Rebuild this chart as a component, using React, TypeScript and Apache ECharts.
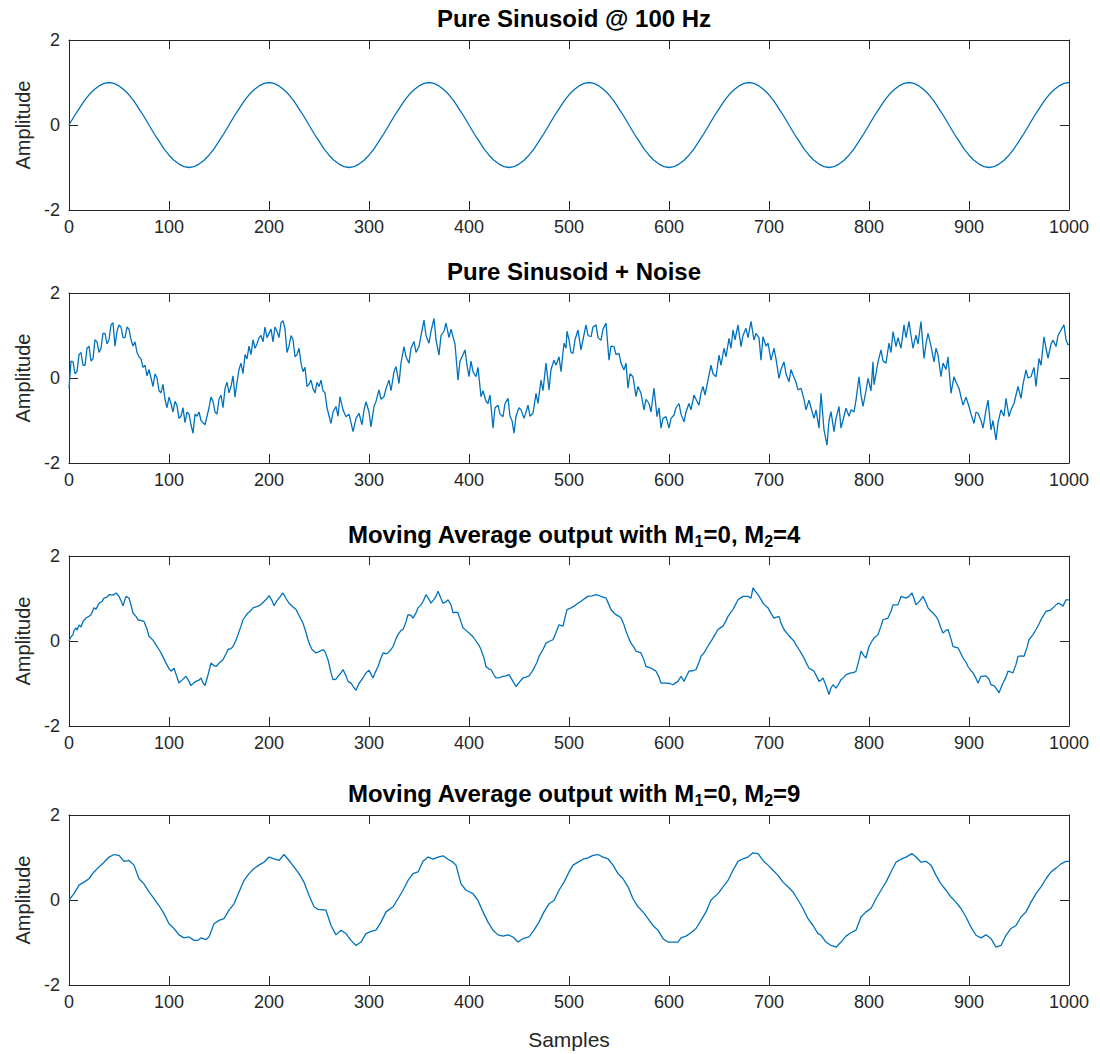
import React, { useEffect, useRef } from "react";
import * as echarts from "echarts";

// Sample step used for the pure sinusoid readings
const sineStep = 5;
const pureSine = [
  0, 0.2, 0.38, 0.56, 0.71, 0.83, 0.92, 0.98, 1, 0.98, 0.92, 0.83, 0.71, 0.56, 0.38, 0.2,
  0, -0.2, -0.38, -0.56, -0.71, -0.83, -0.92, -0.98, -1, -0.98, -0.92, -0.83, -0.71, -0.56, -0.38, -0.2,
  0, 0.2, 0.38, 0.56, 0.71, 0.83, 0.92, 0.98, 1, 0.98, 0.92, 0.83, 0.71, 0.56, 0.38, 0.2,
  0, -0.2, -0.38, -0.56, -0.71, -0.83, -0.92, -0.98, -1, -0.98, -0.92, -0.83, -0.71, -0.56, -0.38, -0.2,
  0, 0.2, 0.38, 0.56, 0.71, 0.83, 0.92, 0.98, 1, 0.98, 0.92, 0.83, 0.71, 0.56, 0.38, 0.2,
  0, -0.2, -0.38, -0.56, -0.71, -0.83, -0.92, -0.98, -1, -0.98, -0.92, -0.83, -0.71, -0.56, -0.38, -0.2,
  0, 0.2, 0.38, 0.56, 0.71, 0.83, 0.92, 0.98, 1, 0.98, 0.92, 0.83, 0.71, 0.56, 0.38, 0.2,
  0, -0.2, -0.38, -0.56, -0.71, -0.83, -0.92, -0.98, -1, -0.98, -0.92, -0.83, -0.71, -0.56, -0.38, -0.2,
  0, 0.2, 0.38, 0.56, 0.71, 0.83, 0.92, 0.98, 1, 0.98, 0.92, 0.83, 0.71, 0.56, 0.38, 0.2,
  0, -0.2, -0.38, -0.56, -0.71, -0.83, -0.92, -0.98, -1, -0.98, -0.92, -0.83, -0.71, -0.56, -0.38, -0.2,
  0, 0.2, 0.38, 0.56, 0.71, 0.83, 0.92, 0.98, 1, 0.98, 0.92, 0.83, 0.71, 0.56, 0.38, 0.2,
  0, -0.2, -0.38, -0.56, -0.71, -0.83, -0.92, -0.98, -1, -0.98, -0.92, -0.83, -0.71, -0.56, -0.38, -0.2,
  0, 0.2, 0.38, 0.56, 0.71, 0.83, 0.92, 0.98, 1,
];

// [sample, amplitude] readings: sinusoid + noise
const noisy: [number, number][] = [
  [0, -0.25], [2, 0.4], [4, 0.38], [6, 0.1], [8, 0.15], [10, 0.55], [12, 0.6], [14, 0.3], [16, 0.3], [18, 0.7],
  [20, 0.75], [22, 0.4], [24, 0.45], [26, 0.9], [28, 0.85], [30, 0.6], [32, 0.7], [34, 1.05], [36, 1.05], [38, 0.8],
  [40, 0.9], [42, 1.25], [44, 1.3], [46, 0.75], [48, 1.1], [50, 1.25], [52, 1.2], [54, 0.95], [56, 0.95], [58, 1.2],
  [60, 1.15], [62, 0.9], [64, 0.75], [66, 0.85], [68, 0.6], [70, 0.5], [72, 0.45], [74, 0.25], [76, 0.3], [78, 0.05],
  [80, 0.2], [82, 0.0], [84, -0.2], [86, 0.1], [88, 0.0], [90, -0.3], [92, -0.35], [94, -0.15], [96, -0.5], [98, -0.7],
  [100, -0.45], [102, -0.6], [104, -0.8], [106, -0.55], [108, -0.65], [110, -0.95], [112, -0.9], [114, -0.7], [116, -1.05], [118, -0.8],
  [120, -0.85], [122, -1.1], [124, -1.3], [126, -0.85], [128, -0.9], [130, -0.8], [132, -1.0], [134, -1.05], [136, -1.1], [138, -0.9],
  [140, -0.7], [142, -0.45], [144, -0.55], [146, -0.8], [148, -0.85], [150, -0.5], [152, -0.4], [154, -0.7], [156, -0.25], [158, -0.1],
  [160, -0.35], [162, -0.2], [164, 0.05], [166, -0.45], [168, -0.1], [170, 0.2], [172, 0.35], [174, 0.1], [176, 0.55], [178, 0.45],
  [180, 0.75], [182, 0.55], [184, 0.9], [186, 0.7], [188, 0.8], [190, 0.95], [192, 1.0], [194, 0.85], [196, 1.2], [198, 0.95],
  [200, 1.05], [202, 1.15], [204, 0.85], [206, 1.2], [208, 1.1], [210, 0.95], [212, 1.3], [214, 1.35], [216, 1.15], [218, 0.6],
  [220, 0.75], [222, 1.0], [224, 0.9], [226, 0.5], [228, 0.55], [230, 0.7], [232, 0.35], [234, 0.15], [236, 0.25], [238, -0.2],
  [240, -0.15], [242, -0.05], [244, -0.25], [246, -0.35], [248, -0.1], [250, -0.2], [252, -0.05], [254, -0.3], [256, -0.35], [258, -0.7],
  [262, -1.07], [264, -0.8], [267, -0.67], [269, -0.9], [271, -0.44], [274, -0.75], [277, -0.91], [280, -0.85], [282, -1.05], [284, -1.26],
  [287, -0.95], [290, -0.83], [293, -1.1], [295, -0.75], [297, -0.56], [300, -0.8], [302, -1.15], [305, -0.67], [307, -0.55], [310, -0.28],
  [312, -0.5], [315, -0.44], [317, -0.25], [320, -0.05], [322, -0.3], [325, 0.15], [327, 0.27], [330, -0.13], [332, 0.35], [335, 0.74],
  [337, 0.5], [340, 0.35], [342, 0.7], [345, 0.86], [347, 0.6], [350, 0.74], [352, 1.0], [355, 1.36], [357, 1.0], [360, 0.82],
  [362, 1.1], [365, 1.4], [367, 0.9], [370, 0.54], [372, 1.0], [375, 1.1], [377, 1.29], [380, 0.95], [382, 1.15], [384, 0.97],
  [386, 0.8], [389, -0.05], [391, 0.4], [394, 0.55], [396, 0.66], [398, 0.3], [400, 0.03], [402, 0.4], [404, 0.15], [407, 0.03],
  [409, 0.25], [412, -0.44], [414, -0.3], [417, -0.55], [419, -0.6], [421, -0.4], [424, -1.18], [426, -0.7], [429, -0.64], [431, -0.85],
  [434, -0.91], [436, -0.6], [439, -0.48], [441, -0.9], [443, -1.0], [445, -1.3], [447, -0.9], [450, -0.7], [452, -0.75], [455, -0.95],
  [457, -0.8], [459, -0.64], [461, -0.9], [464, -0.83], [467, -0.36], [469, -0.6], [472, -0.05], [474, -0.3], [477, 0.35], [480, -0.28],
  [482, 0.2], [485, 0.42], [487, 0.3], [490, 0.5], [492, 0.15], [495, 0.82], [497, 0.7], [498, 1.1], [500, 0.9], [502, 0.6],
  [504, 0.58], [506, 0.9], [509, 1.13], [512, 0.66], [514, 0.9], [517, 1.25], [519, 1.0], [522, 0.97], [524, 1.2], [527, 1.25],
  [529, 0.95], [532, 0.89], [534, 1.15], [537, 1.29], [540, 0.42], [542, 0.75], [545, 0.74], [547, 0.55], [550, 0.58], [552, 0.35],
  [555, 0.19], [557, 0.35], [559, -0.24], [561, 0.1], [564, 0.03], [567, -0.44], [569, -0.2], [572, -0.36], [575, -0.75], [577, -0.5],
  [580, -0.6], [582, -0.8], [585, -0.24], [588, -0.91], [590, -0.7], [592, -1.18], [594, -0.95], [597, -0.91], [600, -1.18], [602, -0.95],
  [605, -0.87], [607, -0.7], [610, -0.6], [612, -0.85], [615, -1.03], [617, -0.8], [620, -0.6], [622, -0.75], [625, -0.4], [627, -0.5],
  [630, -0.64], [632, -0.35], [634, -0.2], [636, -0.4], [639, -0.05], [642, 0.3], [644, 0.1], [647, 0.03], [650, 0.54], [652, 0.3],
  [655, 0.7], [657, 0.5], [660, 0.93], [662, 0.7], [664, 1.13], [666, 0.9], [669, 1.25], [672, 0.74], [674, 1.0], [677, 1.17],
  [679, 0.95], [682, 1.33], [685, 0.89], [687, 1.05], [690, 0.95], [692, 0.42], [694, 0.97], [697, 0.75], [699, 0.82], [702, 0.42],
  [705, 0.7], [707, 0.45], [710, -0.01], [712, 0.2], [715, 0.38], [717, 0.1], [720, -0.09], [722, 0.2], [724, 0.07], [727, -0.1],
  [729, -0.28], [732, -0.24], [735, -0.5], [737, -0.75], [740, -0.52], [742, -0.7], [745, -0.95], [747, -0.75], [750, -1.18], [752, -0.36],
  [755, -1.22], [758, -1.58], [760, -1.0], [762, -0.79], [765, -1.26], [767, -0.95], [770, -0.67], [772, -1.18], [775, -0.9], [777, -0.71],
  [780, -0.9], [782, -0.75], [785, -0.8], [787, -0.52], [790, 0.03], [792, -0.4], [794, -0.67], [797, -0.3], [799, -0.01], [802, -0.3],
  [804, 0.38], [805, -0.16], [807, 0.1], [809, 0.38], [812, 0.66], [814, 0.4], [817, 0.35], [820, 0.82], [822, 0.6], [824, 1.09],
  [827, 0.74], [829, 0.95], [832, 0.7], [835, 1.25], [837, 0.95], [840, 1.33], [842, 1.0], [844, 0.7], [847, 1.01], [849, 0.8],
  [852, 1.33], [855, 0.46], [857, 0.8], [859, 1.05], [862, 0.75], [865, 0.38], [867, 0.7], [869, 0.54], [872, 0.03], [874, 0.35],
  [877, 0.2], [879, 0.5], [882, -0.36], [885, 0.03], [887, -0.1], [890, -0.24], [892, -0.45], [894, -0.64], [897, -0.45], [900, -0.67],
  [902, -0.85], [905, -1.07], [907, -0.8], [909, -0.83], [912, -1.0], [914, -1.18], [917, -0.75], [919, -0.52], [922, -1.22], [924, -1.0],
  [927, -1.46], [929, -1.05], [932, -0.75], [935, -0.9], [937, -0.48], [940, -0.91], [942, -0.75], [945, -0.6], [947, -0.4], [949, -0.2],
  [952, -0.48], [954, -0.15], [957, 0.19], [959, 0.0], [962, 0.03], [965, 0.25], [967, -0.2], [970, 0.46], [972, 0.3], [975, 0.97],
  [977, 0.7], [979, 0.46], [982, 0.8], [984, 0.89], [987, 0.74], [989, 1.0], [992, 1.13], [995, 1.25], [997, 0.9], [999, 0.78],
  [1000, 0.8],
];

// [sample, amplitude] readings: moving average, M1=0, M2=4
const ma4: [number, number][] = [
  [0, 0], [2, 0.1], [4, 0.15], [5, 0.25], [7, 0.31], [8, 0.25], [10, 0.38], [12, 0.33], [14, 0.46], [17, 0.54],
  [20, 0.58], [22, 0.62], [25, 0.78], [27, 0.75], [30, 0.89], [33, 0.93], [35, 1.01], [38, 1.03], [40, 1.09], [44, 1.08],
  [47, 1.13], [50, 1.05], [52, 0.95], [54, 0.83], [57, 1.05], [60, 1.01], [62, 0.85], [64, 0.66], [67, 0.58], [69, 0.5],
  [72, 0.48], [75, 0.46], [78, 0.28], [80, 0.11], [84, 0.02], [87, -0.09], [90, -0.2], [92, -0.28], [95, -0.42], [97, -0.52],
  [100, -0.65], [102, -0.71], [105, -0.64], [108, -0.85], [110, -0.99], [113, -0.92], [117, -0.83], [120, -0.95], [122, -1.05], [125, -0.98],
  [127, -0.95], [130, -0.92], [132, -0.87], [134, -0.98], [136, -1.05], [139, -0.8], [142, -0.52], [145, -0.58], [147, -0.6], [151, -0.5],
  [154, -0.44], [157, -0.3], [159, -0.2], [162, -0.18], [164, -0.13], [167, 0.02], [169, 0.15], [172, 0.35], [174, 0.5], [177, 0.6],
  [179, 0.66], [182, 0.72], [184, 0.78], [189, 0.82], [192, 0.86], [195, 0.93], [198, 1.0], [200, 1.07], [203, 0.95], [205, 0.83],
  [208, 0.95], [210, 1.01], [214, 1.13], [217, 1.0], [220, 0.89], [224, 0.8], [227, 0.74], [230, 0.6], [234, 0.42], [237, 0.2],
  [239, 0.03], [241, -0.1], [243, -0.2], [247, -0.28], [250, -0.25], [254, -0.2], [256, -0.25], [259, -0.44], [262, -0.75], [264, -0.91],
  [267, -0.9], [269, -0.83], [272, -0.75], [274, -0.67], [277, -0.82], [279, -0.95], [282, -0.99], [285, -1.1], [287, -1.16], [290, -1.0],
  [294, -0.87], [297, -0.75], [300, -0.69], [302, -0.78], [304, -0.87], [306, -0.75], [309, -0.6], [312, -0.4], [314, -0.28], [317, -0.3],
  [319, -0.28], [322, -0.2], [324, -0.13], [327, 0.05], [329, 0.15], [332, 0.25], [334, 0.27], [337, 0.45], [339, 0.62], [342, 0.6],
  [344, 0.54], [347, 0.66], [349, 0.78], [352, 0.85], [354, 0.93], [357, 1.09], [360, 0.98], [362, 0.89], [365, 0.98], [367, 1.05],
  [369, 1.17], [372, 1.0], [374, 0.89], [377, 0.92], [379, 0.97], [382, 0.85], [384, 0.66], [387, 0.68], [389, 0.66], [392, 0.45],
  [394, 0.31], [397, 0.25], [400, 0.19], [404, 0.1], [407, 0.0], [410, -0.1], [412, -0.2], [415, -0.4], [417, -0.6], [420, -0.66],
  [422, -0.67], [425, -0.8], [427, -0.87], [431, -0.86], [434, -0.83], [437, -0.82], [440, -0.79], [444, -0.95], [447, -1.07], [451, -0.95],
  [454, -0.87], [457, -0.85], [460, -0.82], [463, -0.72], [465, -0.64], [468, -0.5], [470, -0.36], [474, -0.2], [477, -0.05], [481, 0.0],
  [484, 0.03], [487, 0.2], [490, 0.38], [494, 0.35], [496, 0.55], [498, 0.74], [502, 0.78], [505, 0.82], [509, 0.89], [512, 0.93],
  [514, 0.97], [517, 1.02], [519, 1.05], [523, 1.06], [527, 1.09], [530, 1.07], [532, 1.05], [537, 1.01], [540, 0.85], [542, 0.74],
  [545, 0.66], [547, 0.62], [550, 0.58], [552, 0.54], [555, 0.38], [557, 0.23], [560, 0.05], [562, -0.05], [565, -0.15], [567, -0.24],
  [572, -0.28], [575, -0.45], [577, -0.6], [580, -0.62], [582, -0.64], [585, -0.68], [587, -0.71], [590, -0.85], [592, -0.99], [597, -0.99],
  [601, -1.0], [604, -1.03], [607, -0.98], [609, -0.95], [612, -0.83], [615, -0.95], [618, -0.8], [620, -0.71], [624, -0.7], [627, -0.67],
  [630, -0.5], [632, -0.36], [635, -0.28], [637, -0.2], [640, -0.08], [642, -0.01], [646, 0.15], [649, 0.27], [652, 0.32], [654, 0.35],
  [657, 0.48], [659, 0.58], [662, 0.68], [664, 0.74], [667, 0.88], [669, 0.97], [672, 1.02], [674, 1.05], [679, 1.05], [682, 1.01],
  [684, 1.25], [687, 1.15], [689, 1.09], [692, 0.98], [694, 0.89], [697, 0.82], [699, 0.78], [702, 0.65], [705, 0.54], [710, 0.58],
  [712, 0.42], [715, 0.27], [719, 0.15], [722, 0.07], [725, 0.0], [727, -0.09], [730, -0.2], [732, -0.28], [735, -0.4], [738, -0.55],
  [740, -0.64], [743, -0.68], [745, -0.71], [748, -0.85], [750, -0.95], [752, -0.92], [754, -0.87], [757, -1.05], [760, -1.26], [762, -1.1],
  [764, -1.03], [767, -1.11], [770, -1.0], [772, -0.91], [775, -0.85], [777, -0.79], [782, -0.75], [785, -0.74], [787, -0.71], [790, -0.45],
  [792, -0.24], [795, -0.35], [797, -0.4], [800, -0.13], [803, 0.0], [805, 0.07], [809, 0.15], [812, 0.35], [814, 0.5], [819, 0.54],
  [822, 0.7], [824, 0.85], [829, 0.85], [832, 1.05], [837, 1.01], [840, 1.05], [843, 1.13], [845, 1.0], [847, 0.85], [851, 0.95],
  [854, 1.05], [857, 0.9], [859, 0.78], [862, 0.7], [864, 0.66], [867, 0.58], [869, 0.5], [872, 0.3], [874, 0.19], [877, 0.25],
  [879, 0.27], [882, 0.05], [884, -0.13], [889, -0.16], [892, -0.3], [894, -0.4], [897, -0.5], [899, -0.6], [902, -0.7], [904, -0.75],
  [907, -0.88], [909, -0.99], [912, -0.83], [917, -0.82], [920, -0.9], [922, -1.03], [925, -1.05], [927, -1.11], [930, -1.22], [932, -1.1],
  [934, -0.99], [937, -0.85], [939, -0.71], [942, -0.73], [944, -0.75], [947, -0.55], [949, -0.36], [952, -0.35], [955, -0.36], [958, -0.15],
  [960, 0.03], [964, 0.15], [967, 0.27], [970, 0.4], [972, 0.5], [975, 0.62], [977, 0.7], [981, 0.72], [984, 0.78], [987, 0.85],
  [989, 0.89], [992, 0.86], [994, 0.82], [997, 0.97], [1000, 0.97],
];

// [sample, amplitude] readings: moving average, M1=0, M2=9
const ma9: [number, number][] = [
  [0, 0], [5, 0.15], [10, 0.35], [15, 0.42], [20, 0.5], [25, 0.66], [30, 0.78], [35, 0.89], [40, 1.01], [45, 1.07],
  [50, 1.05], [55, 0.91], [60, 0.93], [65, 0.82], [70, 0.5], [75, 0.38], [80, 0.19], [85, 0.03], [90, -0.13], [95, -0.32],
  [100, -0.56], [105, -0.67], [110, -0.82], [115, -0.89], [120, -0.87], [125, -0.95], [129, -0.95], [132, -0.89], [137, -0.93], [140, -0.87],
  [145, -0.56], [150, -0.48], [155, -0.44], [160, -0.24], [165, -0.09], [170, 0.19], [175, 0.46], [180, 0.62], [185, 0.74], [190, 0.82],
  [195, 0.89], [200, 1.01], [205, 0.97], [210, 0.93], [215, 1.07], [220, 0.93], [225, 0.78], [230, 0.62], [235, 0.42], [240, 0.11],
  [245, -0.16], [249, -0.22], [253, -0.23], [257, -0.24], [262, -0.6], [267, -0.82], [272, -0.71], [277, -0.79], [282, -0.95], [287, -1.07],
  [292, -0.99], [297, -0.79], [302, -0.74], [307, -0.71], [312, -0.52], [317, -0.28], [324, -0.16], [329, 0.03], [334, 0.23], [339, 0.46],
  [344, 0.62], [349, 0.66], [354, 0.91], [359, 1.01], [364, 0.96], [369, 1.01], [374, 1.04], [379, 0.96], [384, 0.89], [387, 0.82],
  [392, 0.38], [397, 0.23], [404, 0.15], [409, -0.01], [414, -0.28], [419, -0.52], [424, -0.71], [429, -0.82], [434, -0.85], [439, -0.82],
  [444, -0.87], [449, -0.99], [454, -0.91], [460, -0.87], [465, -0.71], [470, -0.52], [475, -0.28], [480, -0.09], [485, -0.01], [490, 0.23],
  [495, 0.42], [500, 0.66], [504, 0.82], [509, 0.89], [514, 0.96], [519, 0.99], [524, 1.05], [529, 1.07], [534, 1.01], [539, 0.97],
  [544, 0.82], [549, 0.62], [554, 0.5], [559, 0.31], [564, 0.03], [569, -0.16], [574, -0.28], [579, -0.44], [584, -0.6], [589, -0.71],
  [594, -0.91], [599, -0.99], [604, -0.99], [609, -0.99], [612, -0.89], [617, -0.85], [622, -0.77], [627, -0.67], [632, -0.48], [637, -0.28],
  [642, 0], [649, 0.15], [654, 0.31], [659, 0.46], [664, 0.7], [669, 0.91], [674, 0.97], [679, 1.01], [684, 1.11], [689, 1.09],
  [694, 0.93], [699, 0.82], [704, 0.7], [709, 0.58], [714, 0.42], [719, 0.31], [724, 0.19], [729, 0], [734, -0.2], [739, -0.44],
  [744, -0.6], [749, -0.79], [752, -0.83], [757, -0.99], [762, -1.07], [767, -1.11], [772, -0.99], [777, -0.85], [782, -0.77], [787, -0.71],
  [792, -0.4], [797, -0.28], [802, -0.2], [807, 0.03], [812, 0.23], [817, 0.42], [822, 0.66], [827, 0.89], [832, 0.96], [837, 1.01],
  [843, 1.09], [847, 1.01], [852, 0.89], [857, 0.91], [862, 0.82], [867, 0.58], [872, 0.38], [877, 0.23], [882, 0.07], [887, -0.05],
  [892, -0.2], [897, -0.4], [902, -0.64], [907, -0.83], [912, -0.89], [917, -0.82], [922, -0.91], [927, -1.11], [932, -1.07], [937, -0.83],
  [942, -0.67], [947, -0.6], [952, -0.4], [957, -0.28], [962, -0.05], [967, 0.15], [972, 0.31], [977, 0.5], [982, 0.66], [987, 0.75],
  [992, 0.85], [997, 0.91], [1000, 0.91],
];

const panelTitles = [
  "Pure Sinusoid @ 100 Hz",
  "Pure Sinusoid + Noise",
  "Moving Average output with M{sub|1}=0, M{sub|2}=4",
  "Moving Average output with M{sub|1}=0, M{sub|2}=9",
];
const yLabel = "Amplitude";
const xLabel = "Samples";
const xMin = 0, xMax = 1000, xStep = 100;
const yMin = -2, yMax = 2, yStep = 2;

const FONT = "'Liberation Sans', Arial, Helvetica, sans-serif";
const INK = "#262626";
const LINE = "#0072BD";

export default function App() {
  const ref = useRef<HTMLDivElement>(null);
  useEffect(() => {
    if (!ref.current) return;
    const chart = echarts.init(ref.current, null, { renderer: "svg" });
    const tops = [40, 293, 556, 815];
    const H = 170;
    const L = 69, R = 31;
    const seriesData: [number, number][][] = [
      pureSine.map((v, i) => [i * sineStep, v] as [number, number]),
      noisy,
      ma4,
      ma9,
    ];
    const grids: any[] = [];
    const xAxes: any[] = [];
    const yAxes: any[] = [];
    const series: any[] = [];
    const titles: any[] = [];
    const fmt = (v: number) => String(v);
    tops.forEach((top, i) => {
      grids.push({ left: L, right: R, top, height: H, show: false });
      const axLine = { show: true, onZero: false, lineStyle: { color: INK, width: 1 } };
      const tick = { show: true, inside: true, length: 9, lineStyle: { color: INK, width: 1 } };
      const baseX = { type: "value", gridIndex: i, min: xMin, max: xMax, interval: xStep, splitLine: { show: false }, axisLine: axLine, axisTick: tick };
      const baseY = { type: "value", gridIndex: i, min: yMin, max: yMax, interval: yStep, splitLine: { show: false }, axisLine: axLine, axisTick: tick };
      xAxes.push({
        ...baseX,
        position: "bottom",
        axisLabel: { color: INK, fontSize: 18, fontFamily: FONT, margin: 8, formatter: fmt },
        ...(i === 3
          ? { name: xLabel, nameLocation: "middle", nameGap: 44, nameTextStyle: { color: INK, fontSize: 21, fontFamily: FONT } }
          : {}),
      });
      xAxes.push({ ...baseX, position: "top", axisLabel: { show: false } });
      yAxes.push({
        ...baseY,
        position: "left",
        axisLabel: { color: INK, fontSize: 18, fontFamily: FONT, margin: 9, formatter: fmt },
        name: yLabel,
        nameLocation: "middle",
        nameGap: 36,
        nameRotate: 90,
        nameTextStyle: { color: INK, fontSize: 20, fontFamily: FONT },
      });
      yAxes.push({ ...baseY, position: "right", axisLabel: { show: false } });
      series.push({
        type: "line",
        xAxisIndex: i * 2,
        yAxisIndex: i * 2,
        data: seriesData[i],
        showSymbol: false,
        symbol: "none",
        lineStyle: { color: LINE, width: 1.3 },
        clip: true,
      });
      titles.push({
        text: panelTitles[i],
        left: (L + 1100 - R) / 2,
        top: top - 42,
        textAlign: "center",
        textStyle: {
          color: "#000",
          fontSize: 24,
          fontWeight: "bold",
          fontFamily: FONT,
          lineHeight: 30,
          rich: {
            sub: { fontSize: 16, fontWeight: "bold", fontFamily: FONT, color: "#000", lineHeight: 17, verticalAlign: "bottom" },
          },
        },
      });
    });
    chart.setOption({
      animation: false,
      backgroundColor: "#fff",
      title: titles,
      grid: grids,
      xAxis: xAxes,
      yAxis: yAxes,
      series,
    });
    return () => chart.dispose();
  }, []);
  return <div ref={ref} style={{ position: "fixed", left: 0, top: 0, width: 1100, height: 1054 }} />;
}
